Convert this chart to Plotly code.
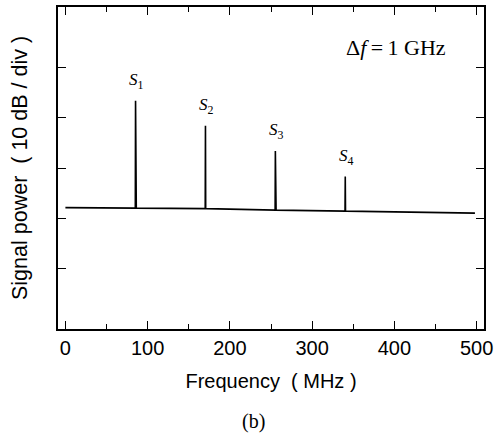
import plotly.graph_objects as go

# Baseline noise floor (MHz, dB)
base_freq = [0, 85, 170, 255, 340, 420, 498]
base_level = [22.1, 22.0, 21.9, 21.6, 21.4, 21.2, 21.0]

# Spectral peaks
peak_names = ["1", "2", "3", "4"]
peak_freq = [85, 170, 255, 340]
peak_level = [43.4, 38.4, 33.4, 28.3]

y_ticks = [10, 20, 30, 40, 50]


def base_at(f):
    for i in range(len(base_freq) - 1):
        if base_freq[i] <= f <= base_freq[i + 1]:
            t = (f - base_freq[i]) / (base_freq[i + 1] - base_freq[i])
            return base_level[i] + t * (base_level[i + 1] - base_level[i])
    return base_level[-1]


# assemble spectrum trace: floor with narrow spikes
xs, ys = [], []
for f in base_freq:
    xs.append(f)
    ys.append(base_at(f))
    if f in peak_freq:
        k = peak_freq.index(f)
        xs += [f + 0.3, f + 0.6, f + 1.2]
        ys += [peak_level[k], base_at(f), base_at(f)]

fig = go.Figure()
fig.add_trace(go.Scatter(x=xs, y=ys, mode="lines",
                         line=dict(color="black", width=1.6),
                         showlegend=False, hoverinfo="skip"))

serif = "Liberation Serif, serif"
sans = "Liberation Sans, Arial, sans-serif"

for name, f, lv in zip(peak_names, peak_freq, peak_level):
    fig.add_annotation(x=f, y=lv, text="<i>S</i><sub>" + name + "</sub>", showarrow=False,
                       yanchor="bottom", yshift=7, xshift=1,
                       font=dict(family=serif, size=17, color="black"))

fig.add_annotation(xref="paper", yref="paper", x=0.915, y=0.875,
                   text="Δ<i>f</i>\u2009=\u20091\u00a0GHz", showarrow=False,
                   xanchor="right", yanchor="middle",
                   font=dict(family=serif, size=22, color="black"))

fig.add_annotation(xref="paper", yref="paper", x=0, y=0.5, xshift=-38,
                   text="Signal power\u00a0\u00a0( 10 dB / div )", textangle=-90,
                   showarrow=False, xanchor="center", yanchor="middle",
                   font=dict(family=sans, size=21.5, color="black"))

fig.add_annotation(xref="paper", yref="paper", x=0.46, y=0, yshift=-92,
                   text="(b)", showarrow=False, yanchor="middle",
                   font=dict(family=serif, size=20, color="black"))

fig.update_layout(
    width=500, height=437,
    margin=dict(l=58, r=16, t=5, b=108),
    paper_bgcolor="white", plot_bgcolor="white",
    font=dict(family=sans, size=20, color="black"),
    xaxis=dict(range=[-9, 509], tickvals=[0, 100, 200, 300, 400, 500],
               tickfont=dict(size=20),
               ticks="inside", ticklen=8, tickwidth=1.3, tickcolor="black",
               minor=dict(tickvals=[50, 150, 250, 350, 450], ticks="inside",
                          ticklen=5, tickwidth=1.2, tickcolor="black"),
               showline=True, linecolor="black", linewidth=1.6, mirror="ticks",
               showgrid=False, zeroline=False,
               title=dict(text="Frequency\u00a0\u00a0( MHz )", standoff=16,
                          font=dict(family=sans, size=20, color="black"))),
    yaxis=dict(range=[-2.1, 62.1], tickvals=y_ticks, showticklabels=False,
               ticks="inside", ticklen=8, tickwidth=1.3, tickcolor="black",
               showline=True, linecolor="black", linewidth=1.6, mirror="ticks",
               showgrid=False, zeroline=False),
)

fig.write_html("out.html", config={"displayModeBar": False},
               post_script="document.body.style.margin='0';")
